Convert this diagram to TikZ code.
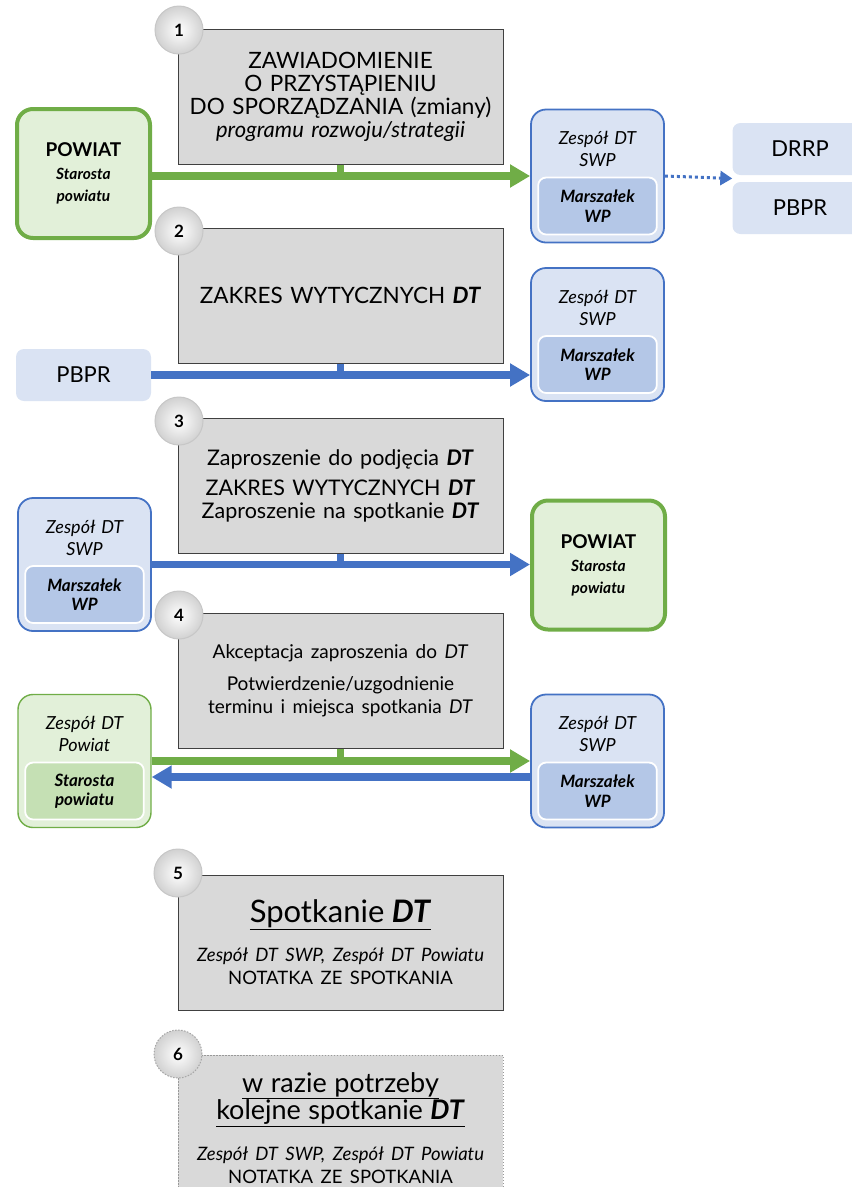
\documentclass[tikz,border=0pt]{standalone}
\usepackage{fontspec}
\setmainfont{Lato}
\usetikzlibrary{arrows.meta,calc}
\definecolor{stepgray}{HTML}{D9D9D9}
\definecolor{flowgreen}{HTML}{70AD47}
\definecolor{flowblue}{HTML}{4472C4}
\definecolor{paleblue}{HTML}{DAE3F3}
\definecolor{midblue}{HTML}{B4C7E7}
\definecolor{palegreen}{HTML}{E2F0D9}
\definecolor{midgreen}{HTML}{C5E0B4}
\tikzset{
  stepbox/.style={draw=black!75, line width=1pt, fill=stepgray, minimum width=325pt,
    minimum height=135pt, text width=318pt, align=center, inner sep=0pt,
    font=\fontsize{22.5}{23}\selectfont},
  optbox/.style={stepbox, draw=black!40, dash pattern=on 1.5pt off 1.5pt},
  stepnum/.style={circle, minimum size=48pt, inner sep=0pt, draw=black!22, line width=1pt,
    inner color=white, outer color=black!18, font=\bfseries\fontsize{17}{17}\selectfont},
  optnum/.style={stepnum, draw=black!35, dash pattern=on 1.5pt off 1.5pt},
  powiatbox/.style={draw=flowgreen, line width=4pt, fill=palegreen, rounded corners=16pt,
    minimum width=133pt, minimum height=129pt, text width=125pt, align=center,
    font=\bfseries\fontsize{19}{22}\selectfont},
  planbox/.style={fill=paleblue, rounded corners=8pt, minimum width=135pt,
    minimum height=52pt, font=\fontsize{22}{23}\selectfont},
  swpouter/.style={draw=flowblue, line width=1.8pt, fill=paleblue, rounded corners=15pt,
    minimum width=133pt, minimum height=133pt},
  swpinner/.style={draw=white, line width=1.8pt, fill=midblue, rounded corners=8pt,
    minimum width=116pt, minimum height=57pt, text width=112pt, align=center,
    font=\bfseries\itshape\fontsize{17}{19.5}\selectfont},
  powouter/.style={swpouter, draw=flowgreen, line width=1.4pt, fill=palegreen},
  powinner/.style={swpinner, fill=midgreen},
  teamtext/.style={text width=125pt, align=center, font=\itshape\fontsize{18}{22}\selectfont},
  flow/.style={line width=7.5pt, -{Triangle[length=20pt, width=22pt]}},
  stem/.style={line width=7.5pt},
  dotflow/.style={flowblue, line width=3pt, dash pattern=on 3pt off 3pt,
    -{Triangle[length=12pt, width=14pt]}}
}
\newcommand{\GenericBox}[5]{
  \node [#1] (#2) at (#3, #4) {#5};
}
\newcommand{\StepBox}[4]{
  \GenericBox{stepbox}{#1}{#2}{#3}{#4}
}
\newcommand{\StepNumber}[4]{
  \GenericBox{stepnum}{#1}{#2}{#3}{#4}
}
\newcommand{\PowiatBox}[3]{
  \GenericBox{powiatbox}{#1}{#2}{#3}{POWIAT\\[1pt]{\itshape\fontsize{15.5}{22}\selectfont Starosta\\powiatu}}
}
\newcommand{\GenericTeam}[7]{
  \node [#1] (#3) at (#4, #5) {};
  \node [teamtext] (#3-top) at (#4, #5-27) {#6};
  \node [#2] (#3-in) at (#4, #5+30) {#7};
}
\newcommand{\SwpTeam}[3]{
  \GenericTeam{swpouter}{swpinner}{#1}{#2}{#3}{Zespół DT\\SWP}{Marszałek\\WP}
}
\newcommand{\PowiatTeam}[3]{
  \GenericTeam{powouter}{powinner}{#1}{#2}{#3}{Zespół DT\\Powiat}{Starosta\\powiatu}
}
\newcommand{\FlowArrow}[3]{
  \draw [flow, #1] (#2) -- (#3);
}
\newcommand{\StepStem}[3]{
  \draw [stem, #1] (#2.south) -- (#2.south |- #3);
}
\newcommand{\DT}{\textbf{\textit{DT}}}

\begin{document}
\begin{tikzpicture}[x=1pt, y=-1pt]
  \useasboundingbox (0,0) rectangle (852,1187);

  % step 1 row
  \StepBox{step1}{340.5}{96.5}{ZAWIADOMIENIE\\O PRZYSTĄPIENIU\\DO SPORZĄDZANIA (zmiany)\\{\itshape\fontsize{22}{23}\selectfont programu rozwoju/strategii}\\[26pt]}
  \StepNumber{num1}{179}{30}{1}
  \PowiatBox{powiat1}{83.5}{173.5}
  \SwpTeam{swp1}{597.5}{176}
  \GenericBox{planbox}{drrp}{800}{149}{DRRP}
  \GenericBox{planbox}{pbpr1}{800}{208}{PBPR}
  \StepStem{flowgreen}{step1}{swp1.west}
  \FlowArrow{flowgreen}{powiat1.east |- swp1.west}{swp1.west}
  \draw [dotflow] (swp1.east) -- ($(drrp.south west)!0.5!(pbpr1.north west)$);

  % step 2 row
  \StepBox{step2}{340.5}{295.5}{ZAKRES WYTYCZNYCH \DT}
  \StepNumber{num2}{179}{231}{2}
  \GenericBox{planbox}{pbpr2}{83.5}{375}{PBPR}
  \SwpTeam{swp2}{597.5}{334.5}
  \StepStem{flowblue}{step2}{pbpr2.east}
  \FlowArrow{flowblue}{pbpr2.east}{pbpr2.east -| swp2.west}

  % step 3 row
  \StepBox{step3}{340.5}{486}{{\fontsize{21.5}{26}\selectfont Zaproszenie do podjęcia \DT\\[4pt]ZAKRES WYTYCZNYCH \DT\\Zaproszenie na spotkanie \DT}}
  \StepNumber{num3}{179}{421}{3}
  \SwpTeam{swp3}{84.5}{564.5}
  \PowiatBox{powiat3}{598.5}{565}
  \StepStem{flowblue}{step3}{swp3.east}
  \FlowArrow{flowblue}{swp3.east}{swp3.east -| powiat3.west}

  % step 4 row
  \StepBox{step4}{340.5}{680.5}{{\fontsize{19}{22}\selectfont Akceptacja zaproszenia do \textit{DT}\\[10pt]Potwierdzenie/uzgodnienie\\terminu i miejsca spotkania \textit{DT}}\\[4pt]}
  \StepNumber{num4}{179}{615}{4}
  \PowiatTeam{team4}{84.5}{761}
  \SwpTeam{swp4}{597.5}{761}
  \StepStem{flowgreen}{step4}{swp4.west}
  \FlowArrow{flowgreen}{team4.east}{swp4.west}
  \FlowArrow{flowblue}{$(swp4.west)+(0,16)$}{$(team4.east)+(0,16)$}

  % step 5 and 6, meetings
  \StepBox{step5}{340.5}{942.5}{{\fontsize{31}{34}\selectfont\underline{Spotkanie \DT}}\\[17pt]{\fontsize{18.5}{20}\selectfont\itshape Zespół DT SWP, Zespół DT Powiatu\\\upshape NOTATKA ZE SPOTKANIA}}
  \StepNumber{num5}{178}{873}{5}
  \GenericBox{optbox, minimum height=146pt}{step6}{340.5}{1128}{{\fontsize{27}{30}\selectfont\underline{w razie potrzeby}\\\underline{kolejne spotkanie \DT}}\\[19pt]{\fontsize{18.5}{20}\selectfont\itshape Zespół DT SWP, Zespół DT Powiatu\\\upshape NOTATKA ZE SPOTKANIA}\\[12pt]}
  \GenericBox{optnum}{num6}{178}{1054}{6}

\end{tikzpicture}
\end{document}
